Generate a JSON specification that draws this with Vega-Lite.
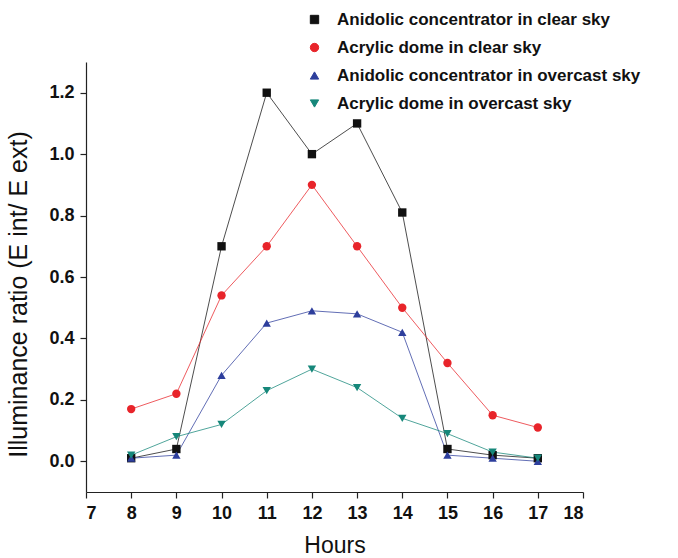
{
  "$schema": "https://vega.github.io/schema/vega-lite/v6.json",
  "width": 497,
  "height": 430,
  "autosize": {"type": "none"},
  "padding": {"left": 86, "top": 62, "right": 95, "bottom": 66},
  "background": "white",
  "config": {
    "font": "Liberation Sans",
    "view": {"stroke": null},
    "axis": {"grid": false, "domainColor": "#222", "tickColor": "#222", "labelColor": "#111", "titleColor": "#111", "labelFontSize": 18, "labelFontWeight": "bold", "titleFontWeight": "normal", "domainWidth": 1.2, "tickWidth": 1.2}
  },
  "data": {
    "values": [
      {"s": "Anidolic concentrator in clear sky", "h": 8, "v": 0.01},
      {"s": "Anidolic concentrator in clear sky", "h": 9, "v": 0.04},
      {"s": "Anidolic concentrator in clear sky", "h": 10, "v": 0.70},
      {"s": "Anidolic concentrator in clear sky", "h": 11, "v": 1.20},
      {"s": "Anidolic concentrator in clear sky", "h": 12, "v": 1.00},
      {"s": "Anidolic concentrator in clear sky", "h": 13, "v": 1.10},
      {"s": "Anidolic concentrator in clear sky", "h": 14, "v": 0.81},
      {"s": "Anidolic concentrator in clear sky", "h": 15, "v": 0.04},
      {"s": "Anidolic concentrator in clear sky", "h": 16, "v": 0.02},
      {"s": "Anidolic concentrator in clear sky", "h": 17, "v": 0.01},
      {"s": "Acrylic dome in clear sky", "h": 8, "v": 0.17},
      {"s": "Acrylic dome in clear sky", "h": 9, "v": 0.22},
      {"s": "Acrylic dome in clear sky", "h": 10, "v": 0.54},
      {"s": "Acrylic dome in clear sky", "h": 11, "v": 0.70},
      {"s": "Acrylic dome in clear sky", "h": 12, "v": 0.90},
      {"s": "Acrylic dome in clear sky", "h": 13, "v": 0.70},
      {"s": "Acrylic dome in clear sky", "h": 14, "v": 0.50},
      {"s": "Acrylic dome in clear sky", "h": 15, "v": 0.32},
      {"s": "Acrylic dome in clear sky", "h": 16, "v": 0.15},
      {"s": "Acrylic dome in clear sky", "h": 17, "v": 0.11},
      {"s": "Anidolic concentrator in overcast sky", "h": 8, "v": 0.01},
      {"s": "Anidolic concentrator in overcast sky", "h": 9, "v": 0.02},
      {"s": "Anidolic concentrator in overcast sky", "h": 10, "v": 0.28},
      {"s": "Anidolic concentrator in overcast sky", "h": 11, "v": 0.45},
      {"s": "Anidolic concentrator in overcast sky", "h": 12, "v": 0.49},
      {"s": "Anidolic concentrator in overcast sky", "h": 13, "v": 0.48},
      {"s": "Anidolic concentrator in overcast sky", "h": 14, "v": 0.42},
      {"s": "Anidolic concentrator in overcast sky", "h": 15, "v": 0.02},
      {"s": "Anidolic concentrator in overcast sky", "h": 16, "v": 0.01},
      {"s": "Anidolic concentrator in overcast sky", "h": 17, "v": 0.0},
      {"s": "Acrylic dome in overcast sky", "h": 8, "v": 0.02},
      {"s": "Acrylic dome in overcast sky", "h": 9, "v": 0.08},
      {"s": "Acrylic dome in overcast sky", "h": 10, "v": 0.12},
      {"s": "Acrylic dome in overcast sky", "h": 11, "v": 0.23},
      {"s": "Acrylic dome in overcast sky", "h": 12, "v": 0.30},
      {"s": "Acrylic dome in overcast sky", "h": 13, "v": 0.24},
      {"s": "Acrylic dome in overcast sky", "h": 14, "v": 0.14},
      {"s": "Acrylic dome in overcast sky", "h": 15, "v": 0.09},
      {"s": "Acrylic dome in overcast sky", "h": 16, "v": 0.03},
      {"s": "Acrylic dome in overcast sky", "h": 17, "v": 0.01}
    ]
  },
  "encoding": {
    "x": {"field": "h", "type": "quantitative", "scale": {"domain": [7, 18], "nice": false, "zero": false},
      "axis": {"values": [7,8,9,10,11,12,13,14,15,16,17,18], "title": "Hours", "titleFontSize": 23, "titlePadding": 12, "labelPadding": 6, "tickSize": 6}},
    "y": {"field": "v", "type": "quantitative", "scale": {"domain": [-0.1, 1.3], "nice": false, "zero": false},
      "axis": {"values": [0, 0.2, 0.4, 0.6, 0.8, 1.0, 1.2], "format": ".1f", "title": "Illuminance ratio (E int/ E ext)", "titleFontSize": 25, "titlePadding": 17, "labelPadding": 6, "tickSize": 6, "titleY": 232}},
    "color": {"field": "s", "type": "nominal",
      "scale": {"domain": ["Anidolic concentrator in clear sky", "Acrylic dome in clear sky", "Anidolic concentrator in overcast sky", "Acrylic dome in overcast sky"],
        "range": ["#111111", "#e8242a", "#2d3e9c", "#16877a"]},
      "legend": {"title": null, "orient": "none", "legendX": 220, "legendY": -51, "labelFontSize": 17, "labelFontWeight": "bold", "labelColor": "#111", "rowPadding": 10, "symbolSize": 70, "symbolStrokeWidth": 1, "labelLimit": 400, "labelOffset": 14, "symbolOpacity": 1,
        "encode": {"symbols": {"update": {
          "shape": {"value": {"expr": "datum.value == 'Anidolic concentrator in clear sky' ? 'M-5,0H-1M1,0H5M-1,-1H1V1H-1Z' : datum.value == 'Acrylic dome in clear sky' ? 'M-5,0H-1M1,0H5M1,0A1,1 0 1,1 -1,0A1,1 0 1,1 1,0Z' : datum.value == 'Anidolic concentrator in overcast sky' ? 'M-5,0H-1M1,0H5M-1.1,0.8L1.1,0.8L0,-1.1Z' : 'M-5,0H-1M1,0H5M-1.1,-0.8L1.1,-0.8L0,1.1Z'"}},
          "stroke": {"value": {"expr": "datum.value == 'Anidolic concentrator in clear sky' ? '#111111' : datum.value == 'Acrylic dome in clear sky' ? '#e8242a' : datum.value == 'Anidolic concentrator in overcast sky' ? '#2d3e9c' : '#16877a'"}},
          "strokeWidth": {"value": 1}}}}}}
  },
  "layer": [
    {"mark": {"type": "line", "strokeWidth": 1, "opacity": 0.75}},
    {"mark": {"type": "point", "filled": true, "size": 70, "opacity": 1},
      "encoding": {"shape": {"field": "s", "type": "nominal",
        "scale": {"domain": ["Anidolic concentrator in clear sky", "Acrylic dome in clear sky", "Anidolic concentrator in overcast sky", "Acrylic dome in overcast sky"],
          "range": ["square", "circle", "triangle-up", "triangle-down"]}, "legend": null}}}
  ]
}
